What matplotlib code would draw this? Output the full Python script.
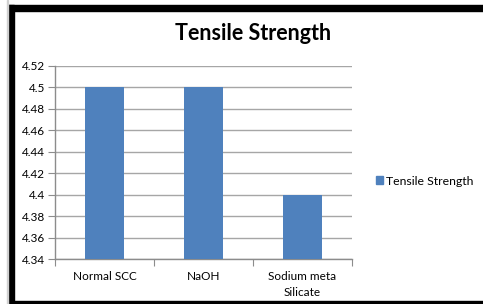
import matplotlib
matplotlib.use("Agg")
import matplotlib.pyplot as plt
from matplotlib.patches import Rectangle, Patch

categories = ["Normal SCC", "NaOH", "Sodium meta\nSilicate"]
values = [4.5, 4.5, 4.4]
series_name = "Tensile Strength"
yticks = [4.34, 4.36, 4.38, 4.4, 4.42, 4.44, 4.46, 4.48, 4.5, 4.52]
ytick_labels = ["4.34", "4.36", "4.38", "4.4", "4.42", "4.44", "4.46", "4.48", "4.5", "4.52"]

W, H = 483, 304
fig = plt.figure(figsize=(W / 100, H / 100), dpi=100)
plt.rcParams['font.family'] = ['Lato', 'DejaVu Sans']

def fx(px):
    return px / W

def fy(py):
    return 1 - py / H

ax = fig.add_axes([fx(55), fy(259), fx(352) - fx(55), fy(66) - fy(259)])
bar_color = "#4F81BD"
x = list(range(len(categories)))
ax.bar(x, values, width=0.4, color=bar_color, zorder=3)
ax.set_xlim(-0.5, len(categories) - 0.5)
ax.set_ylim(4.34, 4.52)
ax.set_yticks(yticks)
ax.set_yticklabels(ytick_labels)
ax.yaxis.grid(True, color="#a6a6a6", linewidth=1.0, zorder=0)
ax.set_axisbelow(True)
for s in ["top", "right"]:
    ax.spines[s].set_visible(False)
for s in ["left", "bottom"]:
    ax.spines[s].set_color("#8c8c8c")
    ax.spines[s].set_linewidth(1.0)
ax.tick_params(axis="y", length=5, color="#8c8c8c", labelsize=8.5, pad=2)
ax.set_xticks([-0.5, 0.5, 1.5, 2.5], minor=False)
ax.set_xticklabels([])
ax.tick_params(axis="x", which="major", length=5, color="#8c8c8c")
ax.set_xticks(x, minor=True)
ax.set_xticklabels(categories, minor=True, linespacing=1.5)
ax.tick_params(axis="x", which="minor", length=0, labelsize=8.5, pad=9)

fig.text(fx(253), fy(33), "Tensile Strength", ha="center", va="center",
         fontsize=15.5, fontweight="bold")

ax.legend(handles=[Patch(color=bar_color, label=series_name)],
          loc="center left", bbox_to_anchor=(fx(365), fy(181)),
          bbox_transform=fig.transFigure, frameon=False, fontsize=8.8,
          handlelength=0.6, handleheight=0.6, handletextpad=0.25)

# border
fig.patches.append(Rectangle((fx(8), fy(304)), fx(6), fy(5) - fy(304), color="black", transform=fig.transFigure))
fig.patches.append(Rectangle((fx(8), fy(11)), 1 - fx(8), fy(5) - fy(11), color="black", transform=fig.transFigure))
fig.patches.append(Rectangle((fx(8), 0), 1 - fx(8), fy(301), color="black", transform=fig.transFigure))
fig.patches.append(Rectangle((fx(7), 0), fx(1), 1, color="#d0d0d0", transform=fig.transFigure))

fig.savefig("out.png", dpi=100)
